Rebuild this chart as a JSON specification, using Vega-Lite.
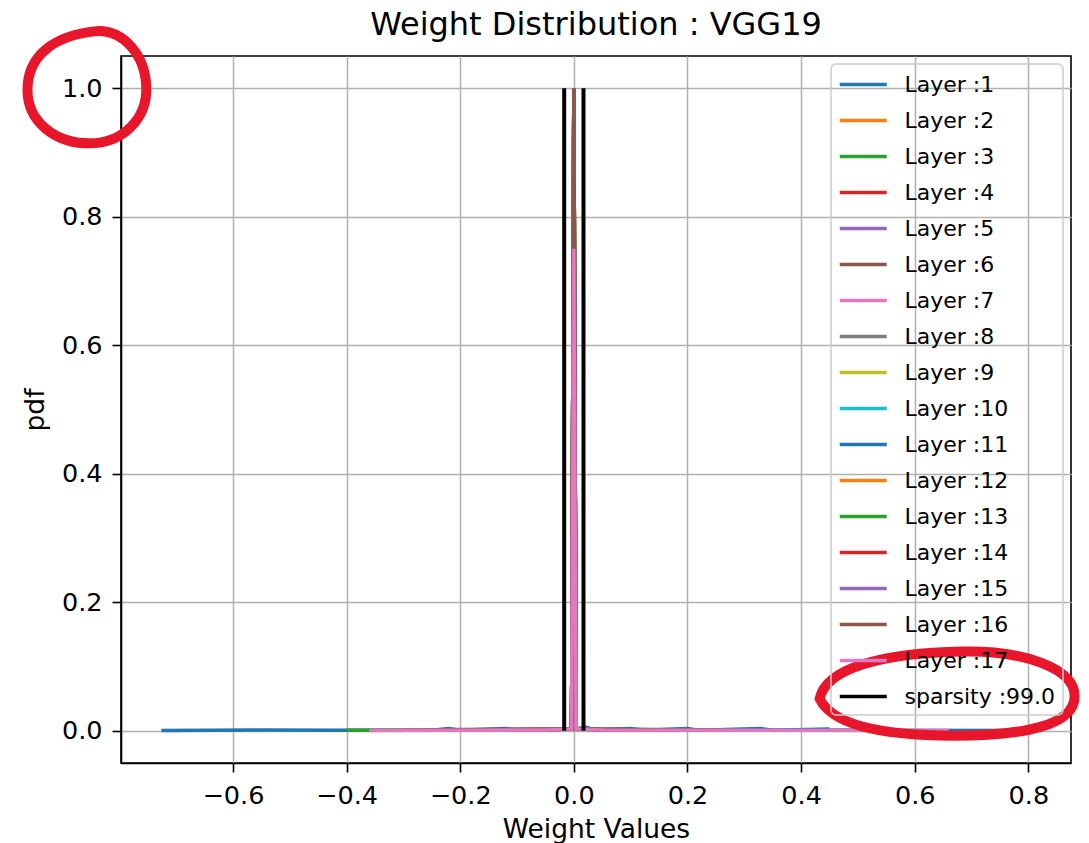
{
  "$schema": "https://vega.github.io/schema/vega-lite/v6.json",
  "width": 950,
  "height": 707,
  "autosize": "none",
  "padding": {"left": 121, "top": 56, "right": 18, "bottom": 80},
  "background": "white",
  "title": {"text": "Weight Distribution : VGG19", "font": "DejaVu Sans", "fontSize": 32, "fontWeight": "normal", "color": "black", "offset": -56, "baseline": "alphabetic", "anchor": "middle", "frame": "group"},
  "config": {
    "view": {"stroke": "black", "strokeWidth": 1.6},
    "axis": {
      "labelFont": "DejaVu Sans", "labelFontSize": 25.5, "labelColor": "black",
      "titleFont": "DejaVu Sans", "titleFontSize": 26.5, "titleFontWeight": "normal", "titleColor": "black",
      "domainColor": "black", "domainWidth": 1.6, "tickColor": "black", "tickWidth": 1.6, "tickSize": 9,
      "gridColor": "#b0b0b0", "gridWidth": 1.5
    },
    "legend": {
      "orient": "top-right", "offset": 8, "labelFont": "DejaVu Sans", "labelFontSize": 22, "labelColor": "black",
      "symbolType": "M-1,0H3", "symbolSize": 552, "symbolStrokeWidth": 3.5, "labelOffset": 39.5, "rowPadding": 11,
      "padding": 7, "fillColor": null, "strokeColor": "#cccccc", "strokeWidth": 1.5, "cornerRadius": 5, "labelLimit": 400
    }
  },
  "datasets": {
    "layers": [
      {"layer": "Layer :1", "x": -0.726, "y": 0.0005}, {"layer": "Layer :1", "x": -0.55, "y": 0.0012}, {"layer": "Layer :1", "x": -0.4, "y": 0.0008}, {"layer": "Layer :1", "x": -0.2, "y": 0.0012}, {"layer": "Layer :1", "x": -0.004, "y": 0.003}, {"layer": "Layer :1", "x": 0, "y": 1.0}, {"layer": "Layer :1", "x": 0.004, "y": 0.003}, {"layer": "Layer :1", "x": 0.2, "y": 0.0012}, {"layer": "Layer :1", "x": 0.5, "y": 0.0008}, {"layer": "Layer :1", "x": 0.8, "y": 0.0005},
      {"layer": "Layer :2", "x": -0.3, "y": 0.0008}, {"layer": "Layer :2", "x": -0.15, "y": 0.0012}, {"layer": "Layer :2", "x": -0.004, "y": 0.003}, {"layer": "Layer :2", "x": 0, "y": 1.0}, {"layer": "Layer :2", "x": 0.004, "y": 0.003}, {"layer": "Layer :2", "x": 0.18, "y": 0.0012}, {"layer": "Layer :2", "x": 0.35, "y": 0.0008},
      {"layer": "Layer :3", "x": -0.4, "y": 0.0008}, {"layer": "Layer :3", "x": -0.2, "y": 0.0012}, {"layer": "Layer :3", "x": -0.004, "y": 0.003}, {"layer": "Layer :3", "x": 0, "y": 1.0}, {"layer": "Layer :3", "x": 0.004, "y": 0.003}, {"layer": "Layer :3", "x": 0.25, "y": 0.0012}, {"layer": "Layer :3", "x": 0.5, "y": 0.0008},
      {"layer": "Layer :4", "x": -0.25, "y": 0.0008}, {"layer": "Layer :4", "x": -0.12, "y": 0.0012}, {"layer": "Layer :4", "x": -0.004, "y": 0.003}, {"layer": "Layer :4", "x": 0, "y": 1.0}, {"layer": "Layer :4", "x": 0.004, "y": 0.003}, {"layer": "Layer :4", "x": 0.15, "y": 0.0012}, {"layer": "Layer :4", "x": 0.3, "y": 0.0008},
      {"layer": "Layer :5", "x": -0.2, "y": 0.0008}, {"layer": "Layer :5", "x": -0.1, "y": 0.0012}, {"layer": "Layer :5", "x": -0.004, "y": 0.003}, {"layer": "Layer :5", "x": 0, "y": 1.0}, {"layer": "Layer :5", "x": 0.004, "y": 0.003}, {"layer": "Layer :5", "x": 0.14, "y": 0.0012}, {"layer": "Layer :5", "x": 0.28, "y": 0.0008},
      {"layer": "Layer :6", "x": -0.22, "y": 0.0008}, {"layer": "Layer :6", "x": -0.11, "y": 0.0012}, {"layer": "Layer :6", "x": -0.004, "y": 0.003}, {"layer": "Layer :6", "x": 0, "y": 1.0}, {"layer": "Layer :6", "x": 0.004, "y": 0.003}, {"layer": "Layer :6", "x": 0.12, "y": 0.0012}, {"layer": "Layer :6", "x": 0.25, "y": 0.0008},
      {"layer": "Layer :7", "x": -0.3, "y": 0.0008}, {"layer": "Layer :7", "x": -0.15, "y": 0.0012}, {"layer": "Layer :7", "x": -0.004, "y": 0.003}, {"layer": "Layer :7", "x": 0, "y": 1.0}, {"layer": "Layer :7", "x": 0.004, "y": 0.003}, {"layer": "Layer :7", "x": 0.16, "y": 0.0012}, {"layer": "Layer :7", "x": 0.33, "y": 0.0008},
      {"layer": "Layer :8", "x": -0.18, "y": 0.0008}, {"layer": "Layer :8", "x": -0.09, "y": 0.0012}, {"layer": "Layer :8", "x": -0.004, "y": 0.003}, {"layer": "Layer :8", "x": 0, "y": 1.0}, {"layer": "Layer :8", "x": 0.004, "y": 0.003}, {"layer": "Layer :8", "x": 0.11, "y": 0.0012}, {"layer": "Layer :8", "x": 0.22, "y": 0.0008},
      {"layer": "Layer :9", "x": -0.16, "y": 0.0008}, {"layer": "Layer :9", "x": -0.08, "y": 0.0012}, {"layer": "Layer :9", "x": -0.004, "y": 0.003}, {"layer": "Layer :9", "x": 0, "y": 1.0}, {"layer": "Layer :9", "x": 0.004, "y": 0.003}, {"layer": "Layer :9", "x": 0.1, "y": 0.0012}, {"layer": "Layer :9", "x": 0.2, "y": 0.0008},
      {"layer": "Layer :10", "x": -0.15, "y": 0.0008}, {"layer": "Layer :10", "x": -0.07, "y": 0.0012}, {"layer": "Layer :10", "x": -0.004, "y": 0.003}, {"layer": "Layer :10", "x": 0, "y": 1.0}, {"layer": "Layer :10", "x": 0.004, "y": 0.003}, {"layer": "Layer :10", "x": 0.09, "y": 0.0012}, {"layer": "Layer :10", "x": 0.18, "y": 0.0008},
      {"layer": "Layer :11", "x": -0.25, "y": 0.001}, {"layer": "Layer :11", "x": -0.22, "y": 0.0035}, {"layer": "Layer :11", "x": -0.2, "y": 0.001}, {"layer": "Layer :11", "x": -0.12, "y": 0.0035}, {"layer": "Layer :11", "x": -0.1, "y": 0.001}, {"layer": "Layer :11", "x": -0.004, "y": 0.003}, {"layer": "Layer :11", "x": 0, "y": 1.0}, {"layer": "Layer :11", "x": 0.004, "y": 0.003}, {"layer": "Layer :11", "x": 0.02, "y": 0.006}, {"layer": "Layer :11", "x": 0.04, "y": 0.001}, {"layer": "Layer :11", "x": 0.1, "y": 0.0035}, {"layer": "Layer :11", "x": 0.12, "y": 0.001}, {"layer": "Layer :11", "x": 0.2, "y": 0.0035}, {"layer": "Layer :11", "x": 0.22, "y": 0.001}, {"layer": "Layer :11", "x": 0.33, "y": 0.0035}, {"layer": "Layer :11", "x": 0.35, "y": 0.001}, {"layer": "Layer :11", "x": 0.45, "y": 0.003},
      {"layer": "Layer :12", "x": -0.12, "y": 0.0008}, {"layer": "Layer :12", "x": -0.06, "y": 0.0012}, {"layer": "Layer :12", "x": -0.004, "y": 0.003}, {"layer": "Layer :12", "x": 0, "y": 1.0}, {"layer": "Layer :12", "x": 0.004, "y": 0.003}, {"layer": "Layer :12", "x": 0.08, "y": 0.0012}, {"layer": "Layer :12", "x": 0.16, "y": 0.0008},
      {"layer": "Layer :13", "x": -0.11, "y": 0.0008}, {"layer": "Layer :13", "x": -0.05, "y": 0.0012}, {"layer": "Layer :13", "x": -0.004, "y": 0.003}, {"layer": "Layer :13", "x": 0, "y": 1.0}, {"layer": "Layer :13", "x": 0.004, "y": 0.003}, {"layer": "Layer :13", "x": 0.07, "y": 0.0012}, {"layer": "Layer :13", "x": 0.15, "y": 0.0008},
      {"layer": "Layer :14", "x": -0.1, "y": 0.0008}, {"layer": "Layer :14", "x": -0.05, "y": 0.0012}, {"layer": "Layer :14", "x": -0.004, "y": 0.003}, {"layer": "Layer :14", "x": 0, "y": 1.0}, {"layer": "Layer :14", "x": 0.004, "y": 0.003}, {"layer": "Layer :14", "x": 0.07, "y": 0.0012}, {"layer": "Layer :14", "x": 0.14, "y": 0.0008},
      {"layer": "Layer :15", "x": -0.12, "y": 0.0008}, {"layer": "Layer :15", "x": -0.06, "y": 0.0012}, {"layer": "Layer :15", "x": -0.004, "y": 0.003}, {"layer": "Layer :15", "x": 0, "y": 1.0}, {"layer": "Layer :15", "x": 0.004, "y": 0.003}, {"layer": "Layer :15", "x": 0.08, "y": 0.0012}, {"layer": "Layer :15", "x": 0.15, "y": 0.0008},
      {"layer": "Layer :16", "x": -0.3, "y": 0.0008}, {"layer": "Layer :16", "x": -0.2, "y": 0.002}, {"layer": "Layer :16", "x": -0.1, "y": 0.0025}, {"layer": "Layer :16", "x": -0.004, "y": 0.003}, {"layer": "Layer :16", "x": 0, "y": 1.0}, {"layer": "Layer :16", "x": 0.004, "y": 0.003}, {"layer": "Layer :16", "x": 0.14, "y": 0.0012}, {"layer": "Layer :16", "x": 0.28, "y": 0.0008},
      {"layer": "Layer :17", "x": -0.36, "y": 0.0006}, {"layer": "Layer :17", "x": -0.2, "y": 0.001}, {"layer": "Layer :17", "x": -0.05, "y": 0.0015}, {"layer": "Layer :17", "x": -0.004, "y": 0.003}, {"layer": "Layer :17", "x": 0, "y": 0.75}, {"layer": "Layer :17", "x": 0.004, "y": 0.003}, {"layer": "Layer :17", "x": 0.05, "y": 0.0015}, {"layer": "Layer :17", "x": 0.3, "y": 0.001}, {"layer": "Layer :17", "x": 0.66, "y": 0.0006}
    ],
    "sparsity": [
      {"layer": "sparsity :99.0", "x": -0.017},
      {"layer": "sparsity :99.0", "x": 0.017}
    ],
    "mark1": [{"x": -0.856, "y": 1.0}],
    "mark2": [{"x": 0.657, "y": 0.058}]
  },
  "layer": [
    {
      "data": {"name": "layers"},
      "mark": {"type": "line", "strokeWidth": 3.5, "clip": true},
      "encoding": {
        "x": {"field": "x", "type": "quantitative", "title": "Weight Values",
              "scale": {"domain": [-0.797, 0.875], "nice": false, "zero": false},
              "axis": {"values": [-0.6, -0.4, -0.2, 0.0, 0.2, 0.4, 0.6, 0.8], "format": ".1f", "labelPadding": 11, "titlePadding": 8}},
        "y": {"field": "y", "type": "quantitative", "title": "pdf",
              "scale": {"domain": [-0.05, 1.05], "nice": false, "zero": false},
              "axis": {"values": [0, 0.2, 0.4, 0.6, 0.8, 1.0], "format": ".1f", "labelPadding": 10, "titlePadding": 12}},
        "color": {"field": "layer", "type": "nominal",
                  "scale": {"domain": ["Layer :1", "Layer :2", "Layer :3", "Layer :4", "Layer :5", "Layer :6", "Layer :7", "Layer :8", "Layer :9", "Layer :10", "Layer :11", "Layer :12", "Layer :13", "Layer :14", "Layer :15", "Layer :16", "Layer :17", "sparsity :99.0"],
                            "range": ["#1f77b4", "#ff7f0e", "#2ca02c", "#d62728", "#9467bd", "#8c564b", "#e377c2", "#7f7f7f", "#bcbd22", "#17becf", "#1f77b4", "#ff7f0e", "#2ca02c", "#d62728", "#9467bd", "#8c564b", "#e377c2", "#000000"]},
                  "legend": {"title": null}}
      }
    },
    {
      "data": {"name": "sparsity"},
      "mark": {"type": "rule", "strokeWidth": 4},
      "encoding": {
        "x": {"field": "x", "type": "quantitative"},
        "y": {"datum": 0},
        "y2": {"datum": 1},
        "color": {"field": "layer", "type": "nominal"}
      }
    },
    {
      "data": {"name": "mark1"},
      "mark": {"type": "point", "filled": false, "stroke": "#e8162a", "strokeWidth": 10, "size": 14400, "opacity": 1,
               "shape": "M0.15,-0.95 C0.6,-0.97 0.97,-0.55 0.98,0.0 C0.99,0.5 0.6,0.92 0.03,0.92 C-0.55,0.92 -1.0,0.55 -1.0,0.03 C-1.0,-0.55 -0.55,-0.88 0.15,-0.95 Z"},
      "encoding": {"x": {"field": "x", "type": "quantitative"}, "y": {"field": "y", "type": "quantitative"}}
    },
    {
      "data": {"name": "mark2"},
      "mark": {"type": "point", "filled": false, "stroke": "#e8162a", "strokeWidth": 10, "size": 65025, "opacity": 1,
               "shape": "M-1,0.04 C-0.95,-0.2 -0.5,-0.32 0.12,-0.33 C0.6,-0.34 1.0,-0.2 1.0,0.02 C1.0,0.25 0.6,0.33 0.05,0.33 C-0.5,0.33 -0.9,0.25 -1,0.04 Z"},
      "encoding": {"x": {"field": "x", "type": "quantitative"}, "y": {"field": "y", "type": "quantitative"}}
    }
  ]
}
